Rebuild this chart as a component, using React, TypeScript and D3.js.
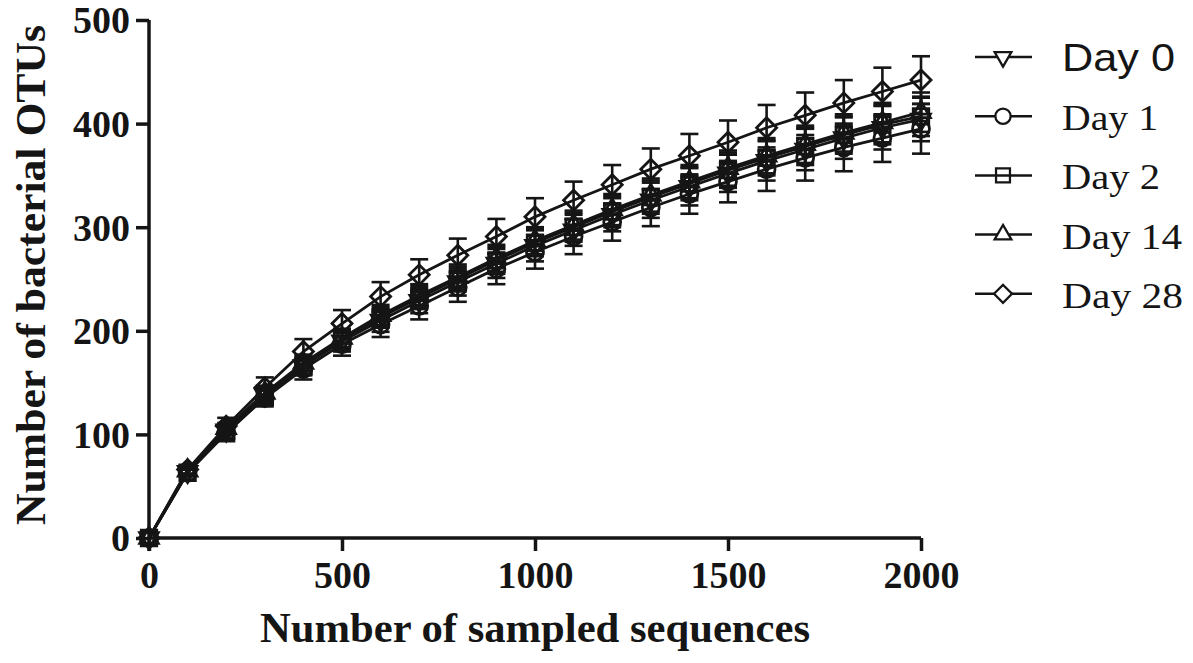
import React, { useEffect, useRef } from 'react';
import * as d3 from 'd3';

// sampled sequences (x) and mean OTU counts per day
const sampled = [0, 100, 200, 300, 400, 500, 600, 700, 800, 900, 1000, 1100, 1200, 1300, 1400, 1500, 1600, 1700, 1800, 1900, 2000];
const day0 = [0, 64, 104, 138, 166, 190, 210, 229, 247, 265, 282, 297, 312, 326, 339, 352, 364, 375, 386, 396, 404];
const day1 = [0, 63, 102, 135, 163, 187, 206, 224, 242, 260, 276, 291, 305, 319, 332, 344, 356, 367, 377, 386, 395];
const day2 = [0, 63, 101, 136, 166, 191, 213, 232, 250, 268, 285, 300, 315, 329, 342, 355, 367, 378, 389, 399, 407];
const day14 = [0, 65, 106, 140, 169, 193, 215, 234, 252, 270, 287, 302, 317, 331, 344, 357, 369, 380, 391, 401, 411];
const day28 = [0, 66, 108, 145, 180, 207, 233, 254, 273, 291, 310, 326, 341, 356, 369, 382, 396, 408, 420, 431, 442];

// standard errors
const err0 = [0, 3, 5, 7, 9, 10, 11, 12, 13, 14, 15, 15, 16, 17, 18, 18, 19, 20, 20, 21, 21];
const err1 = [0, 3, 6, 8, 10, 11, 12, 13, 14, 15, 16, 17, 18, 18, 19, 20, 21, 22, 23, 23, 24];
const err2 = [0, 3, 5, 7, 8, 9, 10, 11, 12, 13, 13, 14, 15, 16, 16, 17, 17, 18, 18, 19, 19];
const err14 = [0, 3, 5, 7, 8, 9, 10, 11, 12, 13, 13, 14, 15, 16, 16, 17, 17, 18, 18, 19, 19];
const err28 = [0, 4, 8, 10, 12, 13, 14, 15, 16, 17, 18, 18, 19, 20, 21, 21, 22, 22, 22, 23, 23];

const labels = ['Day 0', 'Day 1', 'Day 2', 'Day 14', 'Day 28'];
const xTicks = [0, 500, 1000, 1500, 2000];
const yTicks = [0, 100, 200, 300, 400, 500];

const series = [
  { label: labels[0], values: day0, err: err0, shape: 'down' },
  { label: labels[1], values: day1, err: err1, shape: 'circle' },
  { label: labels[2], values: day2, err: err2, shape: 'square' },
  { label: labels[3], values: day14, err: err14, shape: 'up' },
  { label: labels[4], values: day28, err: err28, shape: 'diamond' },
];

const INK = '#151515';

const symbolPath = (shape: string) => {
  if (shape === 'circle') return d3.symbol(d3.symbolCircle, 225)();
  if (shape === 'square') return d3.symbol(d3.symbolSquare, 240)();
  if (shape === 'diamond') return d3.symbol(d3.symbolSquare, 200)();
  return d3.symbol(d3.symbolTriangle, 150)();
};
const symbolRotate = (shape: string) => (shape === 'diamond' ? 45 : shape === 'down' ? 180 : 0);

export default function App() {
  const ref = useRef<SVGSVGElement>(null);

  useEffect(() => {
    const svg = d3.select(ref.current);
    svg.selectAll('*').remove();

    const x = d3.scaleLinear().domain([0, 2000]).range([149, 921]);
    const y = d3.scaleLinear().domain([0, 500]).range([538, 20]);

    const serif = "'Liberation Serif', 'Times New Roman', serif";

    // y axis
    const yAxis = svg.append('g')
      .attr('transform', 'translate(149,0)')
      .call(d3.axisLeft(y).tickValues(yTicks).tickSize(13).tickPadding(6).tickFormat(d3.format('d')));
    // x axis
    const xAxis = svg.append('g')
      .attr('transform', 'translate(0,538)')
      .call(d3.axisBottom(x).tickValues(xTicks).tickSize(13).tickPadding(6).tickFormat(d3.format('d')));

    [xAxis, yAxis].forEach(g => {
      g.select('.domain').attr('stroke', INK).attr('stroke-width', 3.5);
      g.selectAll('.tick line').attr('stroke', INK).attr('stroke-width', 3.5);
      g.selectAll('.tick text')
        .attr('fill', INK)
        .attr('font-family', serif)
        .attr('font-weight', 'bold')
        .attr('font-size', 38);
    });
    // plain axis lines (no outer ticks)
    yAxis.select('.domain').attr('d', `M0,${y(500)}V${y(0) + 13}`);
    xAxis.select('.domain').attr('d', `M${x(0)},0H${x(2000)}`);
    yAxis.selectAll('.tick text').attr('dy', '0.34em');
    xAxis.selectAll('.tick text').attr('dy', '0.82em');

    const plot = svg.append('g');

    series.forEach(s => {
      const g = plot.append('g');
      // error bars
      sampled.forEach((sx, i) => {
        if (s.err[i] <= 0) return;
        const cx = x(sx);
        const top = y(s.values[i] + s.err[i]);
        const bot = y(s.values[i] - s.err[i]);
        g.append('line').attr('x1', cx).attr('x2', cx).attr('y1', top).attr('y2', bot)
          .attr('stroke', INK).attr('stroke-width', 2.6);
        [top, bot].forEach(cy => {
          g.append('line').attr('x1', cx - 9).attr('x2', cx + 9).attr('y1', cy).attr('y2', cy)
            .attr('stroke', INK).attr('stroke-width', 2.6);
        });
      });
      // line
      g.append('path')
        .datum(s.values)
        .attr('fill', 'none')
        .attr('stroke', INK)
        .attr('stroke-width', 2.8)
        .attr('d', d3.line<number>().x((_, i) => x(sampled[i])).y(d => y(d)));
      // markers
      g.selectAll('path.mk')
        .data(s.values)
        .join('path')
        .attr('class', 'mk')
        .attr('d', symbolPath(s.shape))
        .attr('transform', (d, i) => `translate(${x(sampled[i])},${y(d)}) rotate(${symbolRotate(s.shape)})`)
        .attr('fill', 'none')
        .attr('stroke', INK)
        .attr('stroke-width', 2.8);
    });

    // axis titles
    svg.append('text')
      .attr('x', 535).attr('y', 642)
      .attr('text-anchor', 'middle')
      .attr('font-family', serif).attr('font-weight', 'bold').attr('font-size', 42)
      .attr('textLength', 550).attr('lengthAdjust', 'spacingAndGlyphs')
      .attr('fill', INK)
      .text('Number of sampled sequences');

    svg.append('text')
      .attr('transform', 'translate(45,275) rotate(-90)')
      .attr('text-anchor', 'middle')
      .attr('font-family', serif).attr('font-weight', 'bold').attr('font-size', 42)
      .attr('textLength', 500).attr('lengthAdjust', 'spacingAndGlyphs')
      .attr('fill', INK)
      .text('Number of bacterial OTUs');

    // legend
    const legendWidths = [113, 96, 98, 120, 121];
    const legend = svg.append('g');
    series.forEach((s, i) => {
      const ly = 57 + i * 59.2;
      legend.append('line').attr('x1', 975).attr('x2', 1032).attr('y1', ly).attr('y2', ly)
        .attr('stroke', INK).attr('stroke-width', 2.5);
      legend.append('path')
        .attr('d', symbolPath(s.shape))
        .attr('transform', `translate(1003,${ly}) rotate(${symbolRotate(s.shape)}) scale(0.9)`)
        .attr('fill', s.shape === 'square' ? 'none' : 'white')
        .attr('stroke', INK).attr('stroke-width', 2.5);
      legend.append('text')
        .attr('x', 1062).attr('y', ly + 14)
        .attr('font-family', i === 0 ? "'Liberation Sans', Arial, sans-serif" : serif)
        .attr('font-size', i === 0 ? 39 : 36)
        .attr('textLength', legendWidths[i]).attr('lengthAdjust', 'spacingAndGlyphs')
        .attr('fill', INK)
        .text(s.label);
    });
  }, []);

  return (
    <svg ref={ref} width={1193} height={663}
      style={{ position: 'absolute', left: 0, top: 0, background: '#fff' }} />
  );
}
